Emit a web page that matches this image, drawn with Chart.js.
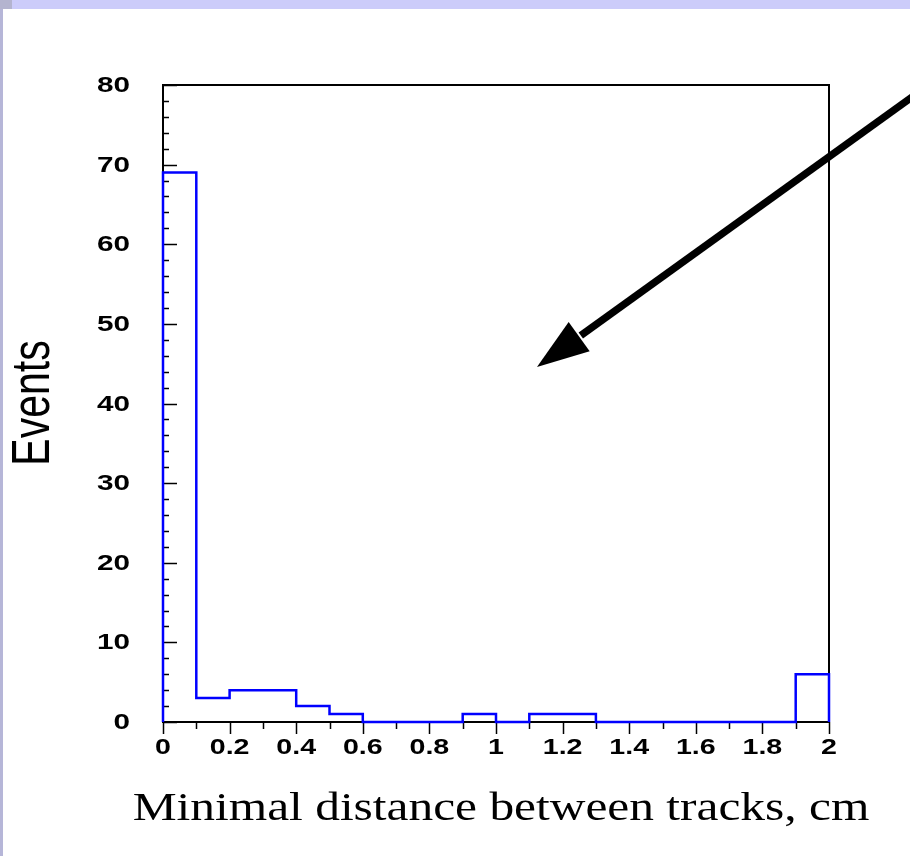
<!DOCTYPE html>
<html>
<head>
<meta charset="utf-8">
<title>Minimal distance between tracks</title>
<script src="https://cdn.jsdelivr.net/npm/chart.js@4/dist/chart.umd.min.js"></script>
<style>
  body { margin: 0; background: #fff; }
  .wrap { position: relative; width: 910px; height: 856px; overflow: hidden; }
  .bar-top { position: absolute; left: 0; top: 0; width: 910px; height: 9px; background: #ccccfa; }
  .bar-left { position: absolute; left: 0; top: 0; width: 3px; height: 856px; background: #b6b6d8; }
  .corner { position: absolute; left: 0; top: 0; width: 12px; height: 9px; background: #b4b4cf; }
  canvas { position: absolute; left: 0; top: 0; }
</style>
</head>
<body>
<div class="wrap">
  <div class="bar-top"></div>
  <div class="bar-left"></div>
  <div class="corner"></div>
  <canvas id="hist" width="910" height="856"></canvas>
</div>
<script>
// lower edge of each 0.1 cm bin and the number of events in it
const binStart = [0, 0.1, 0.2, 0.3, 0.4, 0.5, 0.6, 0.7, 0.8, 0.9,
  1.0, 1.1, 1.2, 1.3, 1.4, 1.5, 1.6, 1.7, 1.8, 1.9];
const events = [69, 3, 4, 4, 2, 1, 0, 0, 0, 1, 0, 1, 1, 0, 0, 0, 0, 0, 0, 6];
const binWidth = 0.1;

const xTicks = [0, 0.2, 0.4, 0.6, 0.8, 1, 1.2, 1.4, 1.6, 1.8, 2];
const xTickLabels = ['0', '0.2', '0.4', '0.6', '0.8', '1', '1.2', '1.4', '1.6', '1.8', '2'];
const yTicks = [0, 10, 20, 30, 40, 50, 60, 70, 80];
const yTickLabels = ['0', '10', '20', '30', '40', '50', '60', '70', '80'];
const xMinorStep = 0.1;
const yMinorStep = 2;

// arrow drawn over the plot, in axis units: tail then tip
const arrowTail = [2.273, 79.2];
const arrowTip = [1.123, 44.58];

// outline of the histogram: left edge up, then a step per bin, right edge down
const outline = [{ x: binStart[0], y: 0 }];
binStart.forEach((x, i) => outline.push({ x: x, y: events[i] }));
outline.push({ x: binStart[binStart.length - 1] + binWidth, y: events[events.length - 1] });
outline.push({ x: binStart[binStart.length - 1] + binWidth, y: 0 });

function wideText(ctx, text, x, y, align, sx) {
  ctx.save();
  ctx.translate(x, y);
  ctx.scale(sx, 1);
  ctx.textAlign = align;
  ctx.fillText(text, 0, 0);
  ctx.restore();
}

const axesPlugin = {
  id: 'axesPlugin',
  beforeDatasetsDraw(chart) {
    const ctx = chart.ctx;
    const { left, right, top, bottom } = chart.chartArea;
    const xs = chart.scales.x;
    const ys = chart.scales.y;
    ctx.save();
    ctx.strokeStyle = '#000';
    ctx.lineWidth = 2;
    ctx.strokeRect(left, top, right - left, bottom - top);

    // y ticks point into the frame, x ticks hang below it
    ctx.lineWidth = 1.5;
    ctx.beginPath();
    for (let v = 0; v <= ys.max + 1e-9; v += yMinorStep) {
      const py = Math.round(ys.getPixelForValue(v)) + 0.5;
      const len = yTicks.includes(v) ? 14 : 6;
      ctx.moveTo(left, py);
      ctx.lineTo(left + len, py);
    }
    for (let k = 0; k * xMinorStep <= xs.max + 1e-9; k++) {
      const v = k * xMinorStep;
      const px = Math.round(xs.getPixelForValue(v)) + 0.5;
      const len = k % 2 === 0 ? 12 : 7;
      ctx.moveTo(px, bottom);
      ctx.lineTo(px, bottom + len);
    }
    ctx.stroke();

    ctx.fillStyle = '#000';
    ctx.font = 'bold 22px "Liberation Sans", Arial, sans-serif';
    ctx.textBaseline = 'middle';
    yTicks.forEach((v, i) => {
      wideText(ctx, yTickLabels[i], 130, ys.getPixelForValue(v) + 1, 'right', 1.35);
    });
    xTicks.forEach((v, i) => {
      wideText(ctx, xTickLabels[i], xs.getPixelForValue(v), 748, 'center', 1.3);
    });

    // axis titles
    ctx.font = '40px "Liberation Serif", "Times New Roman", serif';
    ctx.textBaseline = 'alphabetic';
    wideText(ctx, 'Minimal distance between tracks, cm', 501, 820, 'center', 1.235);

    ctx.save();
    ctx.translate(34, 403);
    ctx.rotate(-Math.PI / 2);
    ctx.scale(1, 1.3);
    ctx.font = '41px "Liberation Sans", Arial, sans-serif';
    ctx.textAlign = 'center';
    ctx.textBaseline = 'middle';
    ctx.fillText('Events', 0, 0);
    ctx.restore();
    ctx.restore();
  },
  afterDatasetsDraw(chart) {
    const ctx = chart.ctx;
    const xs = chart.scales.x;
    const ys = chart.scales.y;
    const tx = xs.getPixelForValue(arrowTail[0]);
    const ty = ys.getPixelForValue(arrowTail[1]);
    const hx = xs.getPixelForValue(arrowTip[0]);
    const hy = ys.getPixelForValue(arrowTip[1]);
    const len = Math.hypot(tx - hx, ty - hy);
    const ux = (tx - hx) / len;
    const uy = (ty - hy) / len;
    const headLen = 52;
    const headHalf = 18;
    const bx = hx + ux * headLen;
    const by = hy + uy * headLen;
    ctx.save();
    ctx.strokeStyle = '#000';
    ctx.fillStyle = '#000';
    ctx.lineWidth = 7.5;
    ctx.beginPath();
    ctx.moveTo(tx, ty);
    ctx.lineTo(bx + ux * 2, by + uy * 2);
    ctx.stroke();
    ctx.beginPath();
    ctx.moveTo(hx, hy);
    ctx.lineTo(bx - uy * headHalf, by + ux * headHalf);
    ctx.lineTo(bx + uy * headHalf, by - ux * headHalf);
    ctx.closePath();
    ctx.fill();
    ctx.restore();
  }
};

new Chart(document.getElementById('hist'), {
  type: 'line',
  data: {
    datasets: [{
      data: outline,
      stepped: 'before',
      borderColor: '#0000ff',
      borderWidth: 2.5,
      fill: false,
      pointRadius: 0,
      clip: false
    }]
  },
  options: {
    responsive: false,
    animation: false,
    layout: { padding: { left: 163, right: 81, top: 85, bottom: 134 } },
    plugins: { legend: { display: false }, tooltip: { enabled: false } },
    scales: {
      x: { type: 'linear', min: 0, max: 2, display: false },
      y: { type: 'linear', min: 0, max: 80, display: false }
    }
  },
  plugins: [axesPlugin]
});
</script>
</body>
</html>
